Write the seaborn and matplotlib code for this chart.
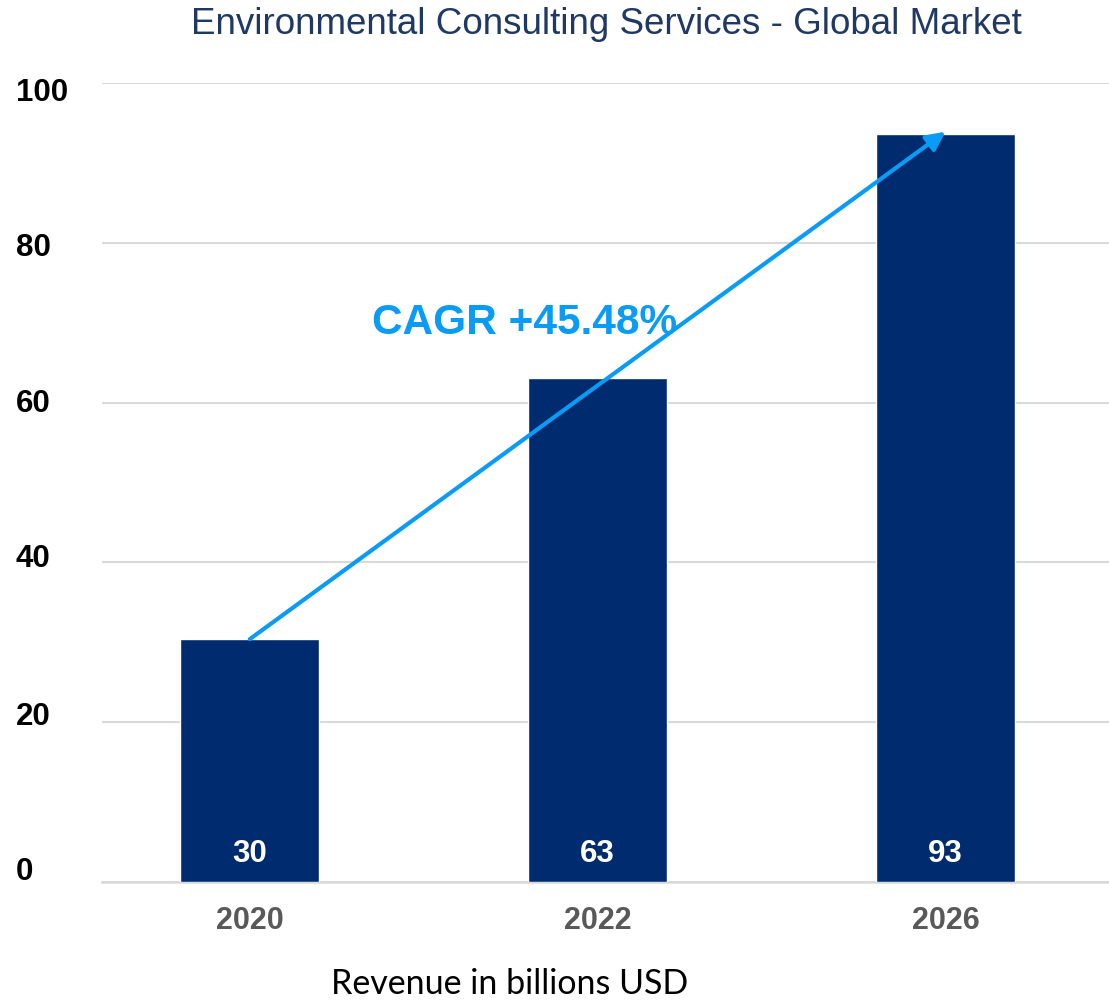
import matplotlib
matplotlib.use("Agg")
import matplotlib.pyplot as plt
import matplotlib.transforms as mtransforms
import seaborn as sns
import pandas as pd

years = ["2020", "2022", "2026"]
revenue = [30.4, 63.1, 93.6]
bar_labels = ["30", "63", "93"]
y_ticks = [0, 20, 40, 60, 80, 100]
title = "Environmental Consulting Services - Global Market"
x_caption = "Revenue in billions USD"
cagr_text = "CAGR +45.48%"

NAVY = "#002C6F"
ARROW = "#0A9BF5"
TITLE_C = "#1F3864"

sns.set_theme(style="white")
plt.rcParams["font.family"] = ["Liberation Sans", "DejaVu Sans"]

fig = plt.figure(figsize=(11.09, 10.0), dpi=100)
ax = fig.add_axes([102 / 1109, 1 - 882 / 1000, 1 - 102 / 1109, (882 - 83) / 1000])

df = pd.DataFrame({"year": years, "revenue": revenue})
sns.barplot(data=df, x="year", y="revenue", color=NAVY, saturation=1, width=0.40, ax=ax, zorder=3)

ax.set_ylim(0, 100)
ax.set_xlim(-0.425, 2.47)
ax.set_yticks(y_ticks)
ax.yaxis.grid(True, color="#D9D9D9", lw=1.5, zorder=0)
ax.set_axisbelow(True)
for s in ["top", "right", "left"]:
    ax.spines[s].set_visible(False)
ax.spines["bottom"].set_color("#D9D9D9")
ax.spines["bottom"].set_linewidth(1.8)
ax.set_xlabel("")
ax.set_ylabel("")

ax.tick_params(axis="y", length=0, pad=62, labelsize=22.5)
# vertical nudges (pixels, positive = upward) to mimic the reference label spacing
y_nudge_px = [13, 9, 6.5, 2.5, -2, -6.5]
for lab, dy in zip(ax.get_yticklabels(), y_nudge_px):
    lab.set_horizontalalignment("left")
    lab.set_fontweight("bold")
    lab.set_color("black")
    lab.set_transform(lab.get_transform() + mtransforms.ScaledTranslation(0, dy / 100, fig.dpi_scale_trans))
ax.tick_params(axis="x", length=0, pad=17, labelsize=22)
for lab in ax.get_xticklabels():
    lab.set_fontweight("bold")
    lab.set_color("#595959")

for i, t in enumerate(bar_labels):
    ax.text(i, 3.5, t, ha="center", va="center", color="white", fontsize=22.5, fontweight="bold", zorder=5)

ax.annotate("", xy=(2, revenue[2] + 0.3), xytext=(0, revenue[0]),
            arrowprops=dict(arrowstyle="-|>", color=ARROW, lw=3, mutation_scale=28,
                            shrinkA=0, shrinkB=0), zorder=6)
ax.text(0.79, 70, cagr_text, ha="center", va="center", color=ARROW, fontsize=30.5, fontweight="bold", zorder=6)

fig.text(606 / 1109, 1 - 24 / 1000, title, ha="center", va="center", color=TITLE_C, fontsize=26.5)
fig.text(510 / 1109, 1 - 984 / 1000, x_caption, ha="center", va="center", color="black", fontsize=24.5,
         family=["Lato", "DejaVu Sans"])

fig.savefig("out.png", dpi=100)
